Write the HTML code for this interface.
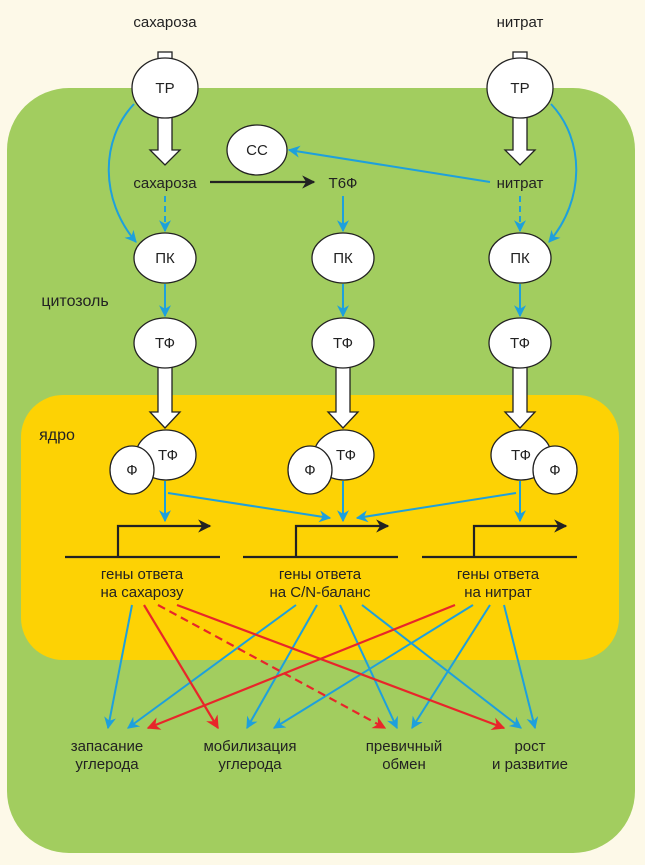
<!DOCTYPE html>
<html><head><meta charset="utf-8"><style>
html,body{margin:0;padding:0;background:#fdf9e8;}
svg{display:block}
text{font-family:"Liberation Sans","DejaVu Sans",sans-serif;font-size:15px;fill:#222;text-anchor:middle}
</style></head><body>
<svg width="645" height="865" viewBox="0 0 645 865" xmlns="http://www.w3.org/2000/svg">
<defs>
<marker id="b" viewBox="0 0 10 10" refX="9" refY="5" markerWidth="6" markerHeight="6" orient="auto"><path d="M0,0 L10,5 L0,10 L3,5z" fill="#1ea0dc"/></marker>
<marker id="r" viewBox="0 0 10 10" refX="9" refY="5" markerWidth="6" markerHeight="6" orient="auto"><path d="M0,0 L10,5 L0,10 L3,5z" fill="#e8262a"/></marker>
<marker id="k" viewBox="0 0 10 10" refX="9" refY="5" markerWidth="6" markerHeight="6" orient="auto"><path d="M0,0 L10,5 L0,10 L3,5z" fill="#222"/></marker>
</defs>
<rect width="645" height="865" fill="#fdf9e8"/>
<rect x="7" y="88" width="628" height="765" rx="62" fill="#a2cd5f"/>
<rect x="21" y="395" width="598" height="265" rx="42" fill="#fdd204"/>

<g stroke="#222" stroke-width="1.3" fill="#fff">
<!-- block arrows top -->
<rect x="158" y="52" width="14" height="30"/>
<rect x="513" y="52" width="14" height="30"/>
<path d="M158,116 H172 V150 H180 L165,165 L150,150 H158Z"/>
<path d="M513,116 H527 V150 H535 L520,165 L505,150 H513Z"/>
<path d="M158,366 H172 V412 H180 L165,428 L150,412 H158Z"/>
<path d="M336,366 H350 V412 H358 L343,428 L328,412 H336Z"/>
<path d="M513,366 H527 V412 H535 L520,428 L505,412 H513Z"/>
<ellipse cx="165" cy="88" rx="33" ry="30"/>
<ellipse cx="520" cy="88" rx="33" ry="30"/>
<ellipse cx="257" cy="150" rx="30" ry="25"/>
<ellipse cx="165" cy="258" rx="31" ry="25"/>
<ellipse cx="343" cy="258" rx="31" ry="25"/>
<ellipse cx="520" cy="258" rx="31" ry="25"/>
<ellipse cx="165" cy="343" rx="31" ry="25"/>
<ellipse cx="343" cy="343" rx="31" ry="25"/>
<ellipse cx="520" cy="343" rx="31" ry="25"/>
<ellipse cx="166" cy="455" rx="30" ry="25"/>
<ellipse cx="132" cy="470" rx="22" ry="24"/>
<ellipse cx="344" cy="455" rx="30" ry="25"/>
<ellipse cx="310" cy="470" rx="22" ry="24"/>
<ellipse cx="521" cy="455" rx="30" ry="25"/>
<ellipse cx="555" cy="470" rx="22" ry="24"/>
</g>

<g font-size="15">
<text x="165" y="27">сахароза</text>
<text x="520" y="27">нитрат</text>
<text x="165" y="93">ТР</text>
<text x="520" y="93">ТР</text>
<text x="257" y="155">СС</text>
<text x="165" y="188">сахароза</text>
<text x="343" y="188">Т6Ф</text>
<text x="520" y="188">нитрат</text>
<text x="165" y="263">ПК</text><text x="343" y="263">ПК</text><text x="520" y="263">ПК</text>
<text x="165" y="348">ТФ</text><text x="343" y="348">ТФ</text><text x="520" y="348">ТФ</text>
<text x="168" y="460">ТФ</text><text x="132" y="475">Ф</text>
<text x="346" y="460">ТФ</text><text x="310" y="475">Ф</text>
<text x="521" y="460">ТФ</text><text x="555" y="475">Ф</text>
<text x="75" y="306" style="font-size:16px">цитозоль</text>
<text x="57" y="440" style="font-size:16px">ядро</text>
<text x="142" y="579">гены ответа</text><text x="142" y="597">на сахарозу</text>
<text x="320" y="579">гены ответа</text><text x="320" y="597">на С/N-баланс</text>
<text x="498" y="579">гены ответа</text><text x="498" y="597">на нитрат</text>
<text x="107" y="751">запасание</text><text x="107" y="769">углерода</text>
<text x="250" y="751">мобилизация</text><text x="250" y="769">углерода</text>
<text x="404" y="751">превичный</text><text x="404" y="769">обмен</text>
<text x="530" y="751">рост</text><text x="530" y="769">и развитие</text>
</g>

<!-- black arrow -->
<line x1="210" y1="182" x2="314" y2="182" stroke="#222" stroke-width="2.2" marker-end="url(#k)"/>
<!-- gene lines -->
<g stroke="#222" stroke-width="2.2" fill="none">
<line x1="65" y1="557" x2="220" y2="557"/>
<line x1="243" y1="557" x2="398" y2="557"/>
<line x1="422" y1="557" x2="577" y2="557"/>
<path d="M118,557 V526 H210" marker-end="url(#k)"/>
<path d="M296,557 V526 H388" marker-end="url(#k)"/>
<path d="M474,557 V526 H566" marker-end="url(#k)"/>
</g>

<g stroke="#1ea0dc" stroke-width="2" fill="none" marker-end="url(#b)">
<path d="M134,104 C100,140 100,200 136,242"/>
<path d="M551,104 C585,140 585,200 549,242"/>
<line x1="165" y1="196" x2="165" y2="231" stroke-dasharray="6,4"/>
<line x1="520" y1="196" x2="520" y2="231" stroke-dasharray="6,4"/>
<line x1="343" y1="196" x2="343" y2="231"/>
<line x1="490" y1="182" x2="289" y2="150"/>
<line x1="165" y1="284" x2="165" y2="316"/>
<line x1="343" y1="284" x2="343" y2="316"/>
<line x1="520" y1="284" x2="520" y2="316"/>
<line x1="165" y1="481" x2="165" y2="521"/>
<line x1="343" y1="481" x2="343" y2="521"/>
<line x1="520" y1="481" x2="520" y2="521"/>
<line x1="168" y1="493" x2="330" y2="518"/>
<line x1="516" y1="493" x2="357" y2="518"/>
<line x1="132" y1="605" x2="108" y2="728"/>
<line x1="296" y1="605" x2="128" y2="728"/>
<line x1="317" y1="605" x2="247" y2="728"/>
<line x1="340" y1="605" x2="397" y2="728"/>
<line x1="362" y1="605" x2="521" y2="728"/>
<line x1="473" y1="605" x2="274" y2="728"/>
<line x1="490" y1="605" x2="412" y2="728"/>
<line x1="504" y1="605" x2="535" y2="728"/>
</g>
<g stroke="#e8262a" stroke-width="2.2" fill="none" marker-end="url(#r)">
<line x1="144" y1="605" x2="218" y2="728"/>
<line x1="158" y1="605" x2="385" y2="728" stroke-dasharray="8,5"/>
<line x1="177" y1="605" x2="504" y2="728"/>
<line x1="455" y1="605" x2="148" y2="728"/>
</g>
</svg>
</body></html>
